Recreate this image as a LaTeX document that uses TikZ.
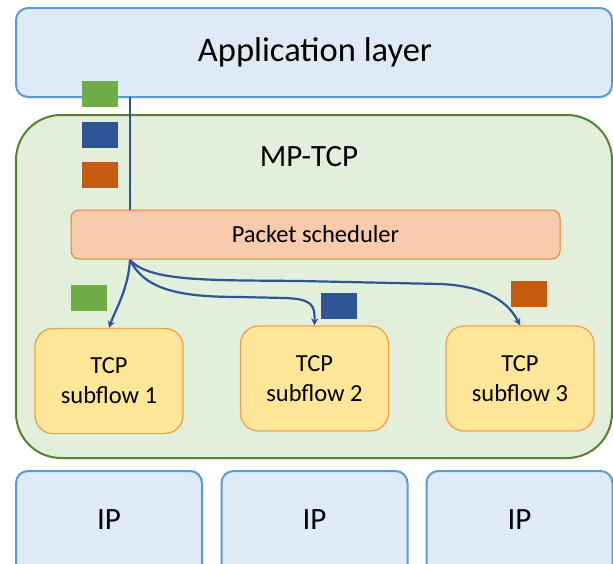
\documentclass[tikz,border=0pt]{standalone}
\usepackage{fontspec}
\setmainfont{Carlito}
\usetikzlibrary{arrows.meta}
\definecolor{appfill}{HTML}{DEEAF6}
\definecolor{appdraw}{HTML}{5B9BD5}
\definecolor{mpfill}{HTML}{E2EFDA}
\definecolor{mpdraw}{HTML}{548235}
\definecolor{schfill}{HTML}{F8CBAD}
\definecolor{schdraw}{HTML}{ED7D31}
\definecolor{sffill}{HTML}{FFE699}
\definecolor{sfdraw}{HTML}{F4A050}
\definecolor{pgreen}{HTML}{70AD47}
\definecolor{pblue}{HTML}{2F5597}
\definecolor{porange}{HTML}{C55A11}
\tikzset{
  layerbox/.style={draw=appdraw, fill=appfill, line width=2pt, rounded corners=12pt, inner sep=0pt},
  mpbox/.style={draw=mpdraw, fill=mpfill, line width=2pt, rounded corners=45pt, inner sep=0pt},
  schbox/.style={draw=schdraw, fill=schfill, line width=1pt, rounded corners=8pt, inner sep=0pt, minimum width=489pt, minimum height=49pt, font=\fontsize{24.5}{28}\selectfont},
  sfbox/.style={draw=sfdraw, fill=sffill, line width=1.3pt, rounded corners=18pt, inner sep=0pt, minimum width=148pt, minimum height=105pt, align=center, font=\fontsize{24.5}{30}\selectfont},
  ipbox/.style={layerbox, minimum width=186pt, minimum height=110pt},
  iptext/.style={font=\fontsize{31}{36}\selectfont},
  pkt/.style={minimum width=36pt, minimum height=26pt, inner sep=0pt},
  flow/.style={draw=pblue, line width=2.2pt, -{Stealth[length=7pt,width=7pt]}},
}
\begin{document}
\begin{tikzpicture}[x=1pt,y=-1pt]
\useasboundingbox (0,0) rectangle (613,563);
\clip (0,0) rectangle (613,563);
% Application layer
\node[layerbox, minimum width=596pt, minimum height=89pt] (app) at (314,52.5) {};
\node[font=\fontsize{34.5}{40}\selectfont] (apptxt) at (315,52) {Application layer};
% MP-TCP
\node[mpbox, minimum width=596pt, minimum height=343pt] (mp) at (314,286.5) {};
\node[font=\fontsize{31}{36}\selectfont] (mptxt) at (309,157) {MP-TCP};
% scheduler
\node[schbox] (sch) at (315.5,234.5) {Packet scheduler};
% packets at top
\node[pkt, fill=pgreen] (g1) at (100,94) {};
\node[pkt, fill=pblue] (b1) at (100,135) {};
\node[pkt, fill=porange] (o1) at (100,175) {};
% vertical line
\coordinate (ltop) at (130,97);
\coordinate (lbot) at (130,210);
\draw[draw=pblue, line width=2pt] (ltop) -- (lbot);
% subflows
\node[sfbox] (sf1) at (109,381) {TCP\\subflow 1};
\node[sfbox] (sf2) at (314.5,378.5) {TCP\\subflow 2};
\node[sfbox] (sf3) at (520,378.5) {TCP\\subflow 3};
% flows
\coordinate (src) at (130,260);
\draw[flow] (src) .. controls (128,290) and (116,308) .. (sf1.north);
\draw[flow] (src) .. controls (145,290) and (180,297) .. (240,297) -- (285,298) .. controls (312,299) and (315,305) .. (sf2.north);
\draw[flow] (src) .. controls (150,282) and (210,280) .. (300,281) -- (440,284) .. controls (490,286) and (510,305) .. (sf3.north);
% packets below scheduler
\node[pkt, fill=pgreen] (g2) at (89,298) {};
\node[pkt, fill=pblue] (b2) at (339,306) {};
\node[pkt, fill=porange] (o2) at (529,294) {};
% IP boxes
\node[ipbox] (ip1) at (109,526) {};
\node[ipbox] (ip2) at (314.5,526) {};
\node[ipbox] (ip3) at (519.5,526) {};
\node[iptext] (ipt1) at (109,519.5) {IP};
\node[iptext] (ipt2) at (314.5,519.5) {IP};
\node[iptext] (ipt3) at (519.5,519.5) {IP};
\end{tikzpicture}
\end{document}
